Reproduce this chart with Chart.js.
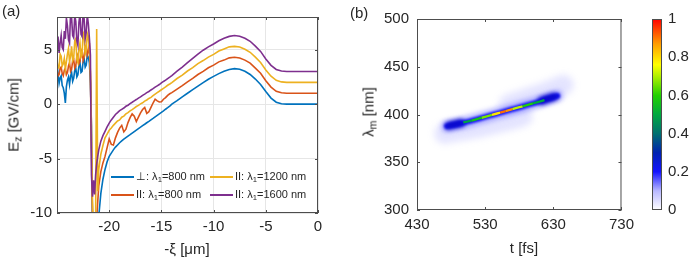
<!DOCTYPE html>
<html>
<head>
<meta charset="utf-8">
<script src="https://cdn.jsdelivr.net/npm/chart.js@4.4.1/dist/chart.umd.min.js"></script>
<style>
  body { margin: 0; background: #fff; font-family: "Liberation Sans", Arial, sans-serif; color: #262626; }
  #wrap { position: relative; width: 698px; height: 262px; overflow: hidden; background: #fff; }
  canvas { position: absolute; top: 0; }
  .lbl { position: absolute; white-space: nowrap; font-size: 15px; line-height: 1; }
  .rot { transform: translate(-50%, -50%) rotate(-90deg); }
  .ctr { transform: translate(-50%, -50%); }
  sub { font-size: 70%; vertical-align: -0.3em; line-height: 0; }
  #legA { position: absolute; left: 111px; top: 169px; font-size: 11px; }
  #legA .item { position: absolute; white-space: nowrap; height: 14px; line-height: 14px; }
  #legA .swatch { display: inline-block; width: 23px; height: 2px; vertical-align: middle; margin-right: 2px; }
</style>
</head>
<body>
<div id="wrap">
  <canvas id="chartA" width="330" height="262" style="left:0"></canvas>
  <canvas id="chartB" width="300" height="262" style="left:340px"></canvas>
  <canvas id="chartCb" width="58" height="262" style="left:640px"></canvas>
  <div id="legA"></div>
  <div class="lbl" style="left:2px;top:3px">(a)</div>
  <div class="lbl" style="left:350px;top:5px">(b)</div>
  <div class="lbl rot" style="left:13px;top:115px">E<sub>z</sub> [GV/cm]</div>
  <div class="lbl ctr" style="left:187px;top:248px">-ξ [μm]</div>
  <div class="lbl rot" style="left:368px;top:112px">λ<sub>m</sub> [nm]</div>
  <div class="lbl ctr" style="left:524px;top:247px">t [fs]</div>
</div>
<script>
// ---- panel (a): on-axis field E_z vs -xi ----
var xiVals = [
  -25.0, -24.9, -24.8, -24.7, -24.6, -24.5, -24.4, -24.3, -24.2, -24.1, -24.0, -23.9, -23.8, -23.7, -23.6, -23.5,
  -23.4, -23.3, -23.2, -23.1, -23.0, -22.9, -22.8, -22.7, -22.6, -22.5, -22.4, -22.3, -22.2, -22.1, -22.0, -21.9, -21.8,
  -21.7, -21.6, -21.5, -21.4, -21.3, -21.2, -21.1,
  -21.0, -20.8, -20.6, -20.4, -20.2, -20.0, -19.8, -19.6, -19.4, -19.2, -19.0, -18.8, -18.6, -18.4, -18.2, -18.0,
  -17.8, -17.6, -17.4, -17.2, -17.0, -16.8, -16.6, -16.4, -16.2, -16.0, -15.8, -15.6, -15.4, -15.2, -15.0, -14.8,
  -14.6, -14.4, -14.2,
  -14.0, -13.5, -13.0, -12.5, -12.0, -11.5, -11.0, -10.5, -10.0, -9.5, -9.0, -8.5, -8.0, -7.5, -7.0, -6.5, -6.0,
  -5.5, -5.0, -4.5, -4.0, -3.5, -3.0,
  -2.0, -1.0, 0.0
];
var perp800 = [
  2.3, 2.8, 1.9, 2.4, 2.6, 1.7, 1.5, 1.0, 0.1, 1.6, 2.2, 2.5, 1.8, 2.6, 2.9, 2.1,
  2.4, 3.1, 3.3, 2.5, 2.7, 3.5, 3.8, 2.9, 3.0, 3.9, 4.2, 3.4, 3.6, 4.5, 4.3, 3.8, 2.0,
  -2.0, -11, -13, -13, -12.5, -11.8, -11.0,
  -10.3, -8.2, -6.9, -6.0, -5.3, -4.8, -4.5, -4.2, -3.95, -3.75, -3.55, -3.38, -3.22, -3.08, -2.94, -2.81,
  -2.67, -2.53, -2.39, -2.25, -2.12, -1.98, -1.85, -1.71, -1.58, -1.44, -1.31, -1.17, -1.03, -0.89, -0.76, -0.62,
  -0.47, -0.33, -0.18,
  0.0, 0.32, 0.67, 1.0, 1.33, 1.65, 1.97, 2.28, 2.55, 2.8, 3.02, 3.18, 3.26, 3.2, 3.02, 2.72, 2.3,
  1.8, 1.15, 0.55, 0.18, 0.04, 0.0,
  0, 0, 0
];
var par800 = [
  3.1, 2.6, 2.7, 3.3, 3.4, 2.8, 2.6, 3.1, 3.3, 2.7, 2.9, 3.5, 3.8, 3.0, 3.2, 4.0,
  4.1, 3.3, 3.5, 4.4, 4.6, 3.7, 3.9, 4.8, 5.0, 4.0, 4.3, 5.2, 5.4, 4.5, 4.8, 5.6, 2.5,
  -4, -10.5, -12, -12.5, -11.5, -10.5, -9.0,
  -7.5, -6.2, -5.4, -4.8, -4.0, -3.2, -3.7, -3.75, -3.1, -2.6, -2.2, -1.95, -2.55, -2.3, -1.7, -1.25,
  -0.9, -1.1, -1.6, -1.2, -0.8, -0.5, -0.3, -0.85, -0.7, -0.3, 0.1, 0.45, 0.3, 0.2, 0.22, 0.45,
  0.6, 0.8, 0.95,
  1.05, 1.38, 1.7, 2.05, 2.36, 2.72, 3.0, 3.34, 3.58, 3.88, 4.04, 4.25, 4.3, 4.24, 4.04, 3.76, 3.3,
  2.84, 2.14, 1.56, 1.18, 1.04, 1.0,
  1, 1, 1
];
var par1200 = [
  4.0, 3.3, 3.4, 4.6, 4.4, 3.5, 3.7, 4.2, 3.2, 3.9, 4.6, 5.1, 3.9, 4.4, 5.3, 4.0,
  4.2, 5.8, 6.0, 4.1, 3.8, 5.0, 5.6, 4.3, 4.5, 6.6, 6.4, 4.6, 4.9, 6.5, 6.2, 5.0, 3.0,
  -2, -9, -11.5, -12, -10.5, 6.9, -8.0,
  -6.0, -4.6, -3.8, -3.1, -2.75, -2.4, -2.2, -1.95, -1.75, -1.55, -1.45, -1.2, -1.1, -0.9, -0.78, -0.62,
  -0.5, -0.36, -0.22, -0.12, 0.02, 0.12, 0.27, 0.38, 0.52, 0.62, 0.78, 0.92, 1.05, 1.18, 1.32, 1.45,
  1.58, 1.73, 1.85,
  1.98, 2.35, 2.66, 3.04, 3.35, 3.72, 4.0, 4.32, 4.57, 4.87, 5.07, 5.26, 5.3, 5.24, 5.04, 4.76, 4.31,
  3.82, 3.14, 2.56, 2.18, 2.04, 2.0,
  2, 2, 2
];
var par1600 = [
  5.5, 6.2, 4.7, 5.6, 6.3, 5.2, 5.0, 6.7, 6.0, 7.9, 7.2, 5.9, 5.6, 8.4, 7.9, 6.3,
  6.1, 8.2, 7.6, 5.8, 5.4, 7.5, 8.3, 6.4, 6.2, 8.5, 7.8, 6.0, 6.6, 8.2, 7.4, 6.1, 4.5,
  -6.5, -8.5, -7.0, -8.3, -6.5, -5.5, -4.8,
  -4.2, -3.4, -2.9, -2.5, -2.1, -1.75, -1.45, -1.2, -0.95, -0.78, -0.6, -0.48, -0.36, -0.2, -0.1, 0.05,
  0.17, 0.3, 0.42, 0.55, 0.66, 0.8, 0.92, 1.05, 1.16, 1.3, 1.42, 1.56, 1.68, 1.8, 1.95, 2.08,
  2.2, 2.35, 2.48,
  2.62, 3.02, 3.4, 3.8, 4.2, 4.6, 4.95, 5.26, 5.52, 5.82, 6.05, 6.22, 6.3, 6.24, 6.05, 5.77, 5.33,
  4.84, 4.15, 3.56, 3.18, 3.04, 3.0,
  3, 3, 3
];
var seriesNames = ["⊥: λ<sub>1</sub>=800 nm", "II: λ<sub>1</sub>=800 nm", "II: λ<sub>1</sub>=1200 nm", "II: λ<sub>1</sub>=1600 nm"];
var seriesColors = ["#0072BD", "#D95319", "#EDB120", "#7E2F8E"];
var xiTicks = [-20, -15, -10, -5, 0];
var ezTicks = [-10, -5, 0, 5];

// ---- panel (b): spectrogram streak ----
var haloLowT = [470, 495, 525, 555, 585];
var haloLowLambda = [380, 383, 387, 392, 398];
var haloHighT = [565, 595, 620, 645];
var haloHighLambda = [411, 418, 424, 431];
var streakT = [474, 490, 505, 520, 535, 550, 560, 575, 590, 605, 620, 636];
var streakLambda = [387.8, 390, 392.5, 395.5, 398.5, 401.5, 403.5, 406.5, 409.5, 412.5, 416, 419.5];
var endLeftT = [477, 485, 494];
var endLeftLambda = [388.4, 389.7, 391.1];
var endRightT = [613, 622, 631];
var endRightLambda = [414.5, 416.6, 418.6];
var coreT = [498, 510, 525, 540, 552, 560, 570, 585, 600, 617];
var coreLambda = [391.6, 393.6, 396.6, 399.6, 402, 403.6, 405.6, 408.6, 411.6, 415];
var coreLevel = [0.45, 0.52, 0.6, 0.72, 0.86, 0.96, 0.8, 0.62, 0.55, 0.45];
var tTicks = [430, 530, 630, 730];
var lambdaTicks = [300, 350, 400, 450, 500];
var cbTicks = [0, 0.2, 0.4, 0.6, 0.8, 1];

var txt = "#262626";
var tickFont = { family: "Liberation Sans", size: 15 };

// colormap (white -> blue -> green -> yellow -> red)
var cmapStops = [
  [0, "#ffffff"], [0.1, "#b8b8ff"], [0.2, "#1414ff"], [0.3, "#0022b0"], [0.4, "#007070"],
  [0.5, "#00a840"], [0.6, "#22d000"], [0.7, "#b0f000"], [0.76, "#ffff00"], [0.87, "#ff9c00"], [1, "#ff0000"]
];
function hexRgb(h) {
  return [parseInt(h.substr(1, 2), 16), parseInt(h.substr(3, 2), 16), parseInt(h.substr(5, 2), 16)];
}
function colorAt(v) {
  for (var i = 1; i < cmapStops.length; i++) {
    if (v <= cmapStops[i][0]) {
      var a = cmapStops[i - 1], b = cmapStops[i];
      var f = (v - a[0]) / (b[0] - a[0]);
      var ca = hexRgb(a[1]), cb = hexRgb(b[1]);
      return "rgb(" + ca.map(function (c, k) { return Math.round(c + (cb[k] - c) * f); }).join(",") + ")";
    }
  }
  return cmapStops[cmapStops.length - 1][1];
}

function zip(xs, ys) {
  return xs.map(function (x, i) { return { x: x, y: ys[i] }; });
}
function fixTicks(vals) {
  return function (s) { s.ticks = vals.map(function (v) { return { value: v }; }); };
}

// box round the plot area with inward tick marks (matlab look)
var boxPlugin = {
  id: "box",
  afterDraw: function (chart, args, opts) {
    var a = chart.chartArea, ctx = chart.ctx, len = opts.tick || 0;
    ctx.save();
    ctx.strokeStyle = opts.color || "#555";
    ctx.lineWidth = 1;
    ctx.strokeRect(a.left + 0.5, a.top + 0.5, a.right - a.left - 1, a.bottom - a.top - 1);
    if (len) {
      ctx.beginPath();
      ["x", "y"].forEach(function (id) {
        var s = chart.scales[id];
        if (!s || !s.options.display) return;
        s.ticks.forEach(function (t) {
          var p = Math.round(s.getPixelForValue(t.value)) + 0.5;
          if (id === "x") {
            ctx.moveTo(p, a.bottom); ctx.lineTo(p, a.bottom - len);
            ctx.moveTo(p, a.top); ctx.lineTo(p, a.top + len);
          } else {
            ctx.moveTo(a.left, p); ctx.lineTo(a.left + len, p);
            ctx.moveTo(a.right, p); ctx.lineTo(a.right - len, p);
          }
        });
      });
      ctx.stroke();
    }
    ctx.restore();
  }
};

// soft edges for the spectrogram marks
var blurPlugin = {
  id: "blur",
  beforeDatasetDraw: function (chart, args) {
    var b = chart.data.datasets[args.index].blur;
    chart.ctx.save();
    if (b) chart.ctx.filter = "blur(" + b + "px)";
  },
  afterDatasetDraw: function (chart) {
    chart.ctx.restore();
  }
};

// panel (a)
var seriesVals = [perp800, par800, par1200, par1600];
var chartA = new Chart(document.getElementById("chartA"), {
  type: "line",
  data: {
    datasets: seriesVals.map(function (vals, i) {
      return {
        data: zip(xiVals, vals),
        borderColor: seriesColors[i],
        borderWidth: 1.6,
        pointRadius: 0,
        tension: 0,
        order: 3 - i
      };
    })
  },
  options: {
    responsive: false,
    animation: false,
    layout: { padding: { top: 17, right: 12, left: 0, bottom: 0 } },
    plugins: { legend: { display: false }, tooltip: { enabled: false }, box: { color: "#4d4d4d", tick: 3 } },
    scales: {
      x: {
        type: "linear", min: -25, max: 0,
        afterBuildTicks: fixTicks(xiTicks),
        afterFit: function (s) { s.height = 49; },
        grid: { color: "#e6e6e6", drawTicks: false },
        border: { display: false },
        ticks: { font: tickFont, color: txt, padding: 5, maxRotation: 0 }
      },
      y: {
        min: -10, max: 8,
        afterBuildTicks: fixTicks(ezTicks),
        afterFit: function (s) { s.width = 57; },
        grid: { color: "#e6e6e6", drawTicks: false },
        border: { display: false },
        ticks: { font: tickFont, color: txt, padding: 5 }
      }
    }
  },
  plugins: [boxPlugin]
});

// html legend for panel (a), two columns
var legA = document.getElementById("legA");
var legPos = [[0, 0], [0, 18], [99, 0], [99, 18]];
seriesNames.forEach(function (name, i) {
  var d = document.createElement("div");
  d.className = "item";
  d.style.left = legPos[i][0] + "px";
  d.style.top = legPos[i][1] + "px";
  d.innerHTML = '<span class="swatch" style="background:' + seriesColors[i] + '"></span>' + name;
  legA.appendChild(d);
});

// panel (b)
function lineSet(xs, ys, color, width, blur, order) {
  return { data: zip(xs, ys), showLine: true, borderColor: color, borderWidth: width, pointRadius: 0,
           tension: 0.4, borderCapStyle: "round", blur: blur, order: order };
}
var chartB = new Chart(document.getElementById("chartB"), {
  type: "scatter",
  data: {
    datasets: [
      lineSet(haloLowT, haloLowLambda, "rgba(130,130,255,0.22)", 20, 3.5, 6),
      lineSet(haloHighT, haloHighLambda, "rgba(130,130,255,0.22)", 20, 3.5, 6),
      lineSet(streakT, streakLambda, "rgba(80,80,255,0.4)", 12, 2.5, 5),
      lineSet(streakT, streakLambda, "#1414f4", 5.5, 1, 4),
      lineSet(endLeftT, endLeftLambda, "#0a0acc", 8, 2, 3),
      lineSet(endRightT, endRightLambda, "#0a0acc", 8, 2, 3),
      {
        data: zip(coreT, coreLambda), showLine: true, borderWidth: 2.4, pointRadius: 0, tension: 0.3, blur: 0.5, order: 1,
        borderColor: colorAt(0.5),
        segment: {
          borderColor: function (c) {
            return colorAt((coreLevel[c.p0DataIndex] + coreLevel[c.p1DataIndex]) / 2);
          }
        }
      }
    ]
  },
  options: {
    responsive: false,
    animation: false,
    layout: { padding: { top: 19, right: 7, left: 0, bottom: 0 } },
    plugins: { legend: { display: false }, tooltip: { enabled: false }, box: { color: "#4d4d4d", tick: 3 } },
    scales: {
      x: {
        type: "linear", min: 430, max: 730,
        afterBuildTicks: fixTicks(tTicks),
        afterFit: function (s) { s.height = 52; },
        grid: { display: false, drawTicks: false },
        border: { display: false },
        ticks: { font: tickFont, color: txt, padding: 6, maxRotation: 0 }
      },
      y: {
        min: 300, max: 500,
        afterBuildTicks: fixTicks(lambdaTicks),
        afterFit: function (s) { s.width = 77; },
        grid: { display: false, drawTicks: false },
        border: { display: false },
        ticks: { font: tickFont, color: txt, padding: 8 }
      }
    }
  },
  plugins: [blurPlugin, boxPlugin]
});

// colorbar
var chartCb = new Chart(document.getElementById("chartCb"), {
  type: "bar",
  data: {
    labels: [""],
    datasets: [{
      data: [[0, 1]],
      barPercentage: 1,
      categoryPercentage: 1,
      borderWidth: 0,
      backgroundColor: function (c) {
        var a = c.chart.chartArea;
        if (!a) return "#fff";
        var g = c.chart.ctx.createLinearGradient(0, a.bottom, 0, a.top);
        cmapStops.forEach(function (s) { g.addColorStop(s[0], s[1]); });
        return g;
      }
    }]
  },
  options: {
    responsive: false,
    animation: false,
    layout: { padding: { top: 19, right: 0, left: 12, bottom: 52 } },
    plugins: { legend: { display: false }, tooltip: { enabled: false }, box: { color: "#4d4d4d", tick: 0 } },
    scales: {
      x: { display: false },
      y: {
        position: "right", min: 0, max: 1,
        afterBuildTicks: fixTicks(cbTicks),
        afterFit: function (s) { s.width = 36; },
        grid: { display: false, drawTicks: false },
        border: { display: false },
        ticks: { font: tickFont, color: txt, padding: 6, callback: function (v) { return String(v); } }
      }
    }
  },
  plugins: [boxPlugin]
});
</script>
</body>
</html>
